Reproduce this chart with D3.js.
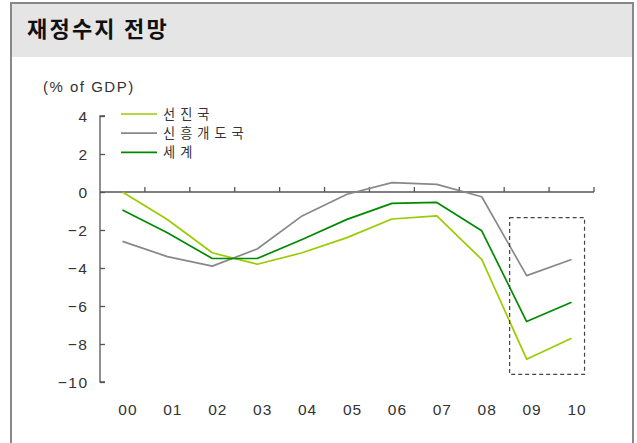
<!DOCTYPE html>
<html><head><meta charset="utf-8">
<script src="https://cdn.jsdelivr.net/npm/d3@7"></script>
<style>body{margin:0;background:#fff}svg{display:block}</style>
</head><body>
<svg id="c" width="637" height="443"></svg>
<script>
const categories = ["00","01","02","03","04","05","06","07","08","09","10"];
const advanced = [0.0,-1.45,-3.2,-3.8,-3.2,-2.4,-1.42,-1.26,-3.55,-8.8,-7.7];
const emerging = [-2.6,-3.4,-3.9,-3.0,-1.26,-0.12,0.49,0.4,-0.25,-4.4,-3.55];
const world = [-0.95,-2.14,-3.5,-3.5,-2.5,-1.44,-0.6,-0.55,-2.04,-6.82,-5.8];
const yTicks = [4,2,0,-2,-4,-6,-8,-10];
const seriesNames = ["선진국","신흥개도국","세계"];
const highlight = {from:"09", to:"10", top:-1.35, bottom:-9.6};

const svg = d3.select("#c");
const KR = "'Noto Sans CJK KR', sans-serif";
const NUM = "'Liberation Sans', Arial, sans-serif";

// frame
svg.append("rect").attr("x",11).attr("y",3).attr("width",622).attr("height",460)
  .attr("fill","#fff").attr("stroke","#888").attr("stroke-width",2);
svg.append("rect").attr("x",12).attr("y",4).attr("width",620).attr("height",53).attr("fill","#e5e5e5");
svg.append("text").attr("x",27).attr("y",37).text("재정수지 전망")
  .attr("font-family",KR).attr("font-weight","bold").attr("font-size",22).attr("letter-spacing",2.2).attr("fill","#111");

const x = d3.scaleBand().domain(categories).range([100,594]);
const y = d3.scaleLinear().domain([-10,4]).range([382,116]);

// y axis
const gy = svg.append("g").attr("transform","translate(100,0)")
  .call(d3.axisRight(y).tickValues(yTicks).tickSize(5).tickFormat(""));
gy.selectAll("path,line").attr("stroke","#555").attr("stroke-width",1.3);
gy.select(".domain").attr("d",`M5,${y(4)}H0V${y(-10)}H5`);
yTicks.forEach(t=>{
  svg.append("text").attr("x",88.5).attr("y",y(t)).attr("dy","0.36em").attr("text-anchor","end")
    .attr("font-family",NUM).attr("font-size",15.5).attr("letter-spacing",1.5).attr("fill","#333")
    .text(t<0 ? "\u2212"+Math.abs(t) : String(t));
});

// x axis at 0 with ticks pointing up
const bounds = categories.map(c=>x(c)+x.bandwidth());
const gx = svg.append("g").attr("transform",`translate(0,${y(0)})`)
  .call(d3.axisTop(x).tickValues([]).tickSize(0));
gx.select(".domain").attr("d",`M100,0H${x.range()[1]}`).attr("stroke","#555").attr("stroke-width",1.3);
gx.selectAll(".bt").data(bounds).join("line").attr("class","bt")
  .attr("x1",d=>d).attr("x2",d=>d).attr("y1",0).attr("y2",-5).attr("stroke","#555").attr("stroke-width",1.3);
categories.forEach(c=>{
  svg.append("text").attr("x",x(c)+x.bandwidth()/2+5.5).attr("y",409).attr("dy","0.36em")
    .attr("text-anchor","middle").attr("font-family",NUM).attr("font-size",15.5).attr("letter-spacing",1).attr("fill","#333").text(c);
});

svg.append("text").attr("x",43).attr("y",87).attr("dy","0.36em").text("(% of GDP)")
  .attr("font-family",NUM).attr("font-size",15).attr("letter-spacing",1.5).attr("fill","#333");

// lines
const cx = c=>x(c)+x.bandwidth()/2;
const line = d3.line().x((d,i)=>cx(categories[i])).y(d=>y(d));
const series = [
  {name:seriesNames[0], data:advanced, color:"#99cc00"},
  {name:seriesNames[1], data:emerging, color:"#888888"},
  {name:seriesNames[2], data:world, color:"#008a00"}
];
series.forEach(s=>{
  svg.append("path").attr("d",line(s.data)).attr("fill","none")
    .attr("stroke",s.color).attr("stroke-width",1.7).attr("stroke-linejoin","round");
});

// highlight rect
const hx1 = cx(highlight.from)-17, hx2 = cx(highlight.to)+13;
svg.append("rect").attr("x",hx1).attr("y",y(highlight.top))
  .attr("width",hx2-hx1).attr("height",y(highlight.bottom)-y(highlight.top))
  .attr("fill","none").attr("stroke","#444").attr("stroke-width",1.2).attr("stroke-dasharray","4,3");

// legend
series.forEach((s,i)=>{
  const ly = 114 + i*19.2;
  svg.append("line").attr("x1",121).attr("x2",157).attr("y1",ly).attr("y2",ly)
    .attr("stroke",s.color).attr("stroke-width",1.7);
  svg.append("text").attr("x",163).attr("y",ly).attr("dy","0.38em").text(s.name)
    .attr("font-family",KR).attr("font-size",13.2).attr("letter-spacing",5).attr("fill","#333");
});
</script>
</body></html>
